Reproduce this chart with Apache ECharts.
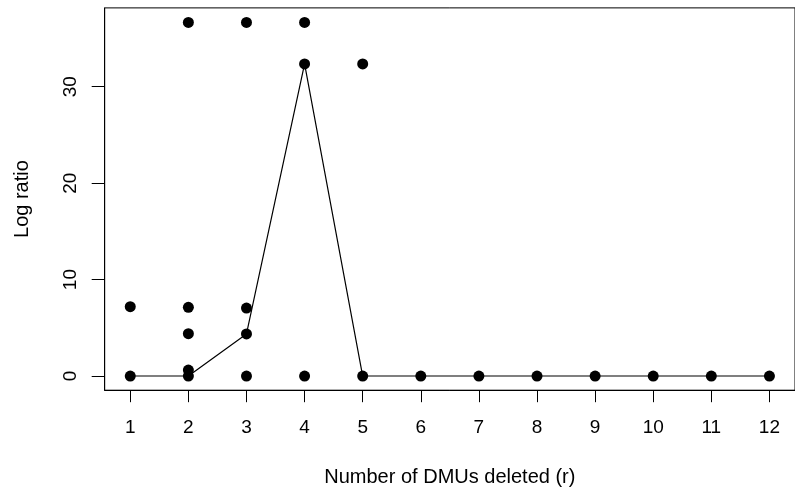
<!DOCTYPE html>
<html>
<head>
<meta charset="utf-8">
<script src="https://cdn.jsdelivr.net/npm/echarts@6/dist/echarts.min.js"></script>
<style>
html,body{margin:0;padding:0;background:#fff;}
#c{width:795px;height:493px;}
</style>
</head>
<body>
<div id="c"></div>
<script>
// r values (number of DMUs deleted)
const rValues = [1, 2, 3, 4, 5, 6, 7, 8, 9, 10, 11, 12];
// log ratio values observed for each r
const ratiosR1 = [0, 7.19];
const ratiosR2 = [36.66, 7.12, 4.39, 0.62, 0];
const ratiosR3 = [36.66, 7.05, 4.36, 0];
const ratiosR4 = [36.66, 32.36, 0];
const ratiosR5 = [32.36, 0];
const ratiosR6to12 = [0];
// connecting line values
const lineValues = [0, 0, 4.36, 32.36, 0, 0, 0, 0, 0, 0, 0, 0];
// tick labels
const yTicks = [0, 10, 20, 30];
const xTicks = [1, 2, 3, 4, 5, 6, 7, 8, 9, 10, 11, 12];

const ratiosByR = [ratiosR1, ratiosR2, ratiosR3, ratiosR4, ratiosR5,
  ratiosR6to12, ratiosR6to12, ratiosR6to12, ratiosR6to12, ratiosR6to12, ratiosR6to12, ratiosR6to12];

const scatterData = [];
rValues.forEach((r, i) => ratiosByR[i].forEach(v => scatterData.push([r, v])));
const lineData = rValues.map((r, i) => [r, lineValues[i]]);

const font = 'Liberation Sans, Arial, Helvetica, sans-serif';
const chart = echarts.init(document.getElementById('c'), null, {renderer: 'canvas'});
chart.setOption({
  animation: false,
  backgroundColor: '#fff',
  grid: {
    left: 104.7, top: 7.9, width: 696.6, height: 382.3,
    show: true, borderColor: '#000', borderWidth: 1, backgroundColor: 'transparent'
  },
  xAxis: {
    type: 'value', min: 0.56, max: 12.44,
    name: 'Number of DMUs deleted (r)', nameLocation: 'middle', nameGap: 77,
    nameTextStyle: {fontFamily: font, fontSize: 20, color: '#000'},
    axisLine: {show: true, onZero: false, lineStyle: {color: '#000', width: 1}},
    axisTick: {show: true, length: 12, inside: false, customValues: xTicks, lineStyle: {color: '#000', width: 1}},
    axisLabel: {show: true, customValues: xTicks, margin: 28, fontFamily: font, fontSize: 19, color: '#000'},
    splitLine: {show: false}
  },
  yAxis: {
    type: 'value', min: -1.47, max: 38.17,
    name: 'Log ratio', nameLocation: 'middle', nameGap: 72,
    nameTextStyle: {fontFamily: font, fontSize: 20, color: '#000'},
    axisLine: {show: true, onZero: false, lineStyle: {color: '#000', width: 1}},
    axisTick: {show: true, length: 13, inside: false, customValues: yTicks, lineStyle: {color: '#000', width: 1}},
    axisLabel: {show: true, customValues: yTicks, rotate: 90, margin: 24, fontFamily: font, fontSize: 19, color: '#000'},
    splitLine: {show: false}
  },
  series: [
    {
      type: 'line', data: lineData, showSymbol: false, symbol: 'none',
      lineStyle: {color: '#000', width: 1.2}, z: 2
    },
    {
      type: 'scatter', data: scatterData, symbol: 'circle', symbolSize: 11,
      itemStyle: {color: '#000', opacity: 1}, z: 3
    }
  ]
});
</script>
</body>
</html>
